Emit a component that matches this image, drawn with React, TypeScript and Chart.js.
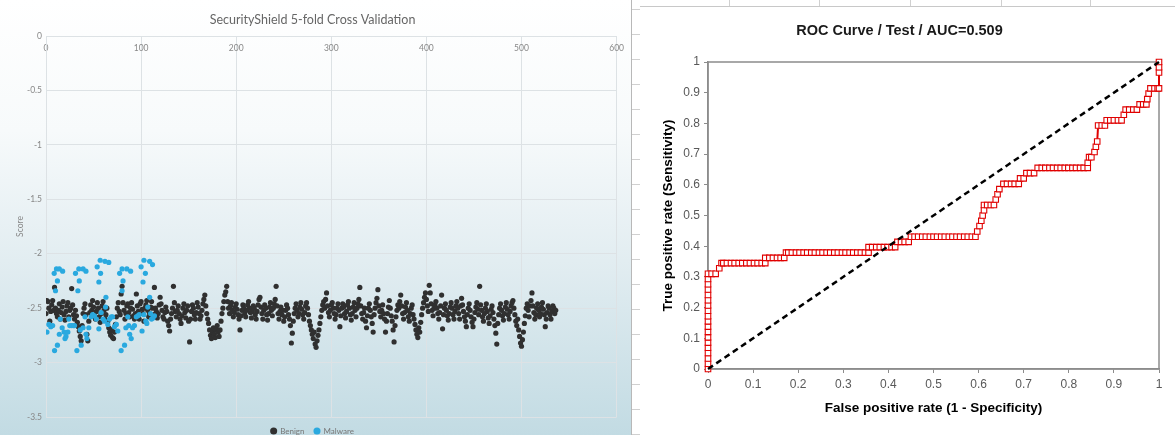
import React, { useEffect, useRef } from 'react';
import Chart from 'chart.js/auto';

// ---------- Left chart: SecurityShield 5-fold Cross Validation ----------
const leftTitle = 'SecurityShield 5-fold Cross Validation';
const seriesNames = ['Benign', 'Malware'];
const xTickStep = 100;
const xRange = [0, 600];
const yRange = [-3.5, 0];
const yTickStep = 0.5;

// Benign scores, one per sample index (x = sample number)
const benignScores = [
  -2.55, -2.43, -2.44, -2.5, -2.62, -2.53, -2.47, -2.43, -2.52, -2.31,
  -2.5, -2.55, -2.58, -2.52, -2.46, -2.6, -2.54, -2.49, -2.44, -2.56,
  -2.61, -2.53, -2.48, -2.45, -2.58, -2.52, -2.5, -2.32, -2.47, -2.56,
  -2.6, -2.52, -2.57, -2.63, -2.67, -2.71, -2.76, -2.8, -2.66, -2.55,
  -2.5, -2.46, -2.56, -2.74, -2.8, -2.62, -2.54, -2.47, -2.52, -2.43,
  -2.49, -2.57, -2.6, -2.53, -2.45, -2.5, -2.58, -2.63, -2.55, -2.48,
  -2.44, -2.52, -2.6, -2.56, -2.5, -2.62, -2.68, -2.72, -2.75, -2.7,
  -2.77, -2.78, -2.72, -2.65, -2.58, -2.5, -2.45, -2.53, -2.56, -2.37,
  -2.3, -2.45, -2.52, -2.6, -2.55, -2.48, -2.46, -2.54, -2.58, -2.5,
  -2.45, -2.51, -2.57, -2.6, -2.55, -2.37, -2.48, -2.53, -2.6, -2.46,
  -2.44, -2.51, -2.55, -2.62, -2.5, -2.47, -2.43, -2.52, -2.58, -2.55,
  -2.49, -2.44, -2.5, -2.56, -2.31, -2.5, -2.53, -2.59, -2.55, -2.47,
  -2.4, -2.46, -2.52, -2.58, -2.6, -2.54, -2.49, -2.53, -2.62, -2.66,
  -2.71, -2.6, -2.55, -2.5, -2.3, -2.45, -2.53, -2.58, -2.52, -2.48,
  -2.55, -2.6, -2.64, -2.57, -2.5, -2.46, -2.54, -2.59, -2.52, -2.48,
  -2.62, -2.81, -2.6, -2.53, -2.47, -2.5, -2.56, -2.6, -2.54, -2.45,
  -2.49, -2.55, -2.6, -2.57, -2.52, -2.46, -2.42, -2.38, -2.48, -2.55,
  -2.6, -2.64, -2.7, -2.75, -2.78, -2.72, -2.68, -2.74, -2.77, -2.7,
  -2.66, -2.72, -2.76, -2.7, -2.62, -2.55, -2.5, -2.44, -2.38, -2.35,
  -2.3, -2.44, -2.5, -2.55, -2.48, -2.45, -2.52, -2.58, -2.54, -2.49,
  -2.46, -2.51, -2.56, -2.6, -2.7, -2.57, -2.52, -2.47, -2.5, -2.55,
  -2.58, -2.52, -2.47, -2.44, -2.5, -2.54, -2.59, -2.53, -2.48, -2.5,
  -2.56, -2.6, -2.53, -2.47, -2.42, -2.4, -2.49, -2.55, -2.6, -2.52,
  -2.47, -2.5, -2.56, -2.61, -2.55, -2.49, -2.45, -2.52, -2.57, -2.5,
  -2.46, -2.42, -2.3, -2.48, -2.55, -2.6, -2.53, -2.49, -2.56, -2.52,
  -2.62, -2.58, -2.52, -2.47, -2.5, -2.56, -2.6, -2.66, -2.82, -2.73,
  -2.62, -2.55, -2.5, -2.46, -2.52, -2.58, -2.55, -2.49, -2.45, -2.51,
  -2.56, -2.6, -2.54, -2.48, -2.45, -2.5, -2.56, -2.62, -2.66, -2.7,
  -2.74, -2.78, -2.72, -2.83, -2.86, -2.8, -2.75, -2.7, -2.64, -2.58,
  -2.52, -2.47, -2.44, -2.5, -2.42, -2.36, -2.48, -2.54, -2.58, -2.52,
  -2.47, -2.45, -2.5, -2.55, -2.6, -2.56, -2.5, -2.46, -2.52, -2.67,
  -2.57, -2.5, -2.46, -2.49, -2.55, -2.59, -2.53, -2.47, -2.44, -2.5,
  -2.56, -2.61, -2.55, -2.49, -2.45, -2.52, -2.58, -2.5, -2.46, -2.42,
  -2.31, -2.48, -2.55, -2.6, -2.54, -2.5, -2.62, -2.68, -2.57, -2.5,
  -2.46, -2.52, -2.58, -2.64, -2.72, -2.56, -2.5, -2.45, -2.41, -2.33,
  -2.48, -2.53, -2.58, -2.52, -2.47, -2.55, -2.6, -2.72, -2.62, -2.55,
  -2.49, -2.43, -2.5, -2.57, -2.62, -2.7, -2.81, -2.66, -2.58, -2.52,
  -2.47, -2.5, -2.44, -2.38, -2.48, -2.55, -2.6, -2.54, -2.49, -2.45,
  -2.52, -2.58, -2.62, -2.55, -2.5, -2.47, -2.56, -2.6, -2.65, -2.7,
  -2.74, -2.77, -2.68, -2.72, -2.63, -2.56, -2.5, -2.45, -2.4, -2.36,
  -2.42, -2.48, -2.53, -2.29, -2.36, -2.46, -2.52, -2.57, -2.5, -2.47,
  -2.44, -2.5, -2.55, -2.6, -2.54, -2.48, -2.38, -2.69, -2.56, -2.5,
  -2.46, -2.52, -2.57, -2.61, -2.55, -2.49, -2.45, -2.5, -2.56, -2.6,
  -2.53, -2.48, -2.44, -2.5, -2.55, -2.6, -2.48, -2.41, -2.47, -2.53,
  -2.58, -2.62, -2.67, -2.56, -2.5, -2.46, -2.52, -2.58, -2.63, -2.67,
  -2.6, -2.54, -2.49, -2.45, -2.51, -2.56, -2.3, -2.47, -2.52, -2.58,
  -2.62, -2.55, -2.5, -2.46, -2.53, -2.59, -2.64, -2.57, -2.51, -2.48,
  -2.54, -2.6, -2.66, -2.73, -2.83, -2.64, -2.56, -2.5, -2.46, -2.52,
  -2.57, -2.61, -2.55, -2.49, -2.45, -2.51, -2.56, -2.6, -2.53, -2.48,
  -2.45, -2.43, -2.5, -2.56, -2.62, -2.66, -2.6, -2.7, -2.76, -2.82,
  -2.85, -2.79, -2.72, -2.64, -2.57, -2.5, -2.46, -2.52, -2.58, -2.48,
  -2.43, -2.36, -2.48, -2.54, -2.6, -2.56, -2.5, -2.46, -2.52, -2.58,
  -2.55, -2.49, -2.45, -2.51, -2.56, -2.67, -2.6, -2.54, -2.48, -2.5,
  -2.56, -2.6, -2.53, -2.48, -2.5, -2.55, -2.52,
];

// Malware samples: [sample index, score]
const malwarePoints: [number, number][] = [
  [1, -2.72], [3, -2.65], [5, -2.67], [7, -2.66], [9, -2.89], [12, -2.84],
  [8.6, -2.18], [11, -2.14], [14, -2.14], [17.5, -2.16], [12, -2.25], [10, -2.34],
  [15, -2.6], [17, -2.68], [19, -2.72], [21, -2.76], [23, -2.72], [25, -2.66],
  [27, -2.66], [29, -2.66], [20, -2.78], [14, -2.74], [24, -2.6],
  [31, -2.18], [34.5, -2.14], [39, -2.14], [42, -2.16], [33.5, -2.34], [35, -2.25],
  [32.5, -2.89], [37, -2.84], [39, -2.68], [41, -2.58], [42, -2.74], [43, -2.78],
  [45, -2.68], [47.5, -2.58], [49, -2.56], [51, -2.57], [53, -2.6], [36, -2.7], [30, -2.66],
  [53.8, -2.12], [57, -2.06], [62, -2.07], [66, -2.08], [55.6, -2.26], [57.4, -2.18],
  [55.6, -2.69], [58, -2.54], [61.6, -2.62], [62.6, -2.49], [63, -2.4], [66.8, -2.6],
  [68.6, -2.58], [70, -2.58], [72, -2.67], [74, -2.65], [75.5, -2.71], [60, -2.6], [65, -2.65],
  [77.4, -2.18], [80, -2.14], [85, -2.14], [89, -2.16], [81, -2.25], [80, -2.34],
  [79, -2.89], [82.6, -2.84], [84, -2.68], [86, -2.58], [88, -2.74], [89.6, -2.78],
  [91, -2.68], [93, -2.66], [95, -2.58], [96.6, -2.57], [98, -2.56], [87, -2.66],
  [100, -2.12], [103, -2.06], [109, -2.07], [112, -2.1], [102, -2.26], [104.5, -2.18],
  [101, -2.71], [105, -2.62], [107, -2.49], [109, -2.4], [111, -2.6], [112.5, -2.59],
  [114, -2.57], [103, -2.56], [106, -2.64], [110, -2.55],
];

// ---------- Right chart: ROC curve ----------
const rocTitle = 'ROC Curve / Test / AUC=0.509';
const rocXTitle = 'False positive rate (1 - Specificity)';
const rocYTitle = 'True positive rate (Sensitivity)';
const rocTickStep = 0.1;

// [false positive rate, true positive rate]
const rocCurve: [number, number][] = [
  [0, 0], [0, 0.017], [0, 0.034], [0, 0.052], [0, 0.069], [0, 0.086], [0, 0.103],
  [0, 0.121], [0, 0.138], [0, 0.155], [0, 0.172], [0, 0.19], [0, 0.207], [0, 0.224],
  [0, 0.241], [0, 0.259], [0, 0.276], [0, 0.293], [0, 0.31],
  [0.008, 0.31], [0.017, 0.31], [0.025, 0.328], [0.03, 0.345],
  [0.034, 0.345], [0.042, 0.345], [0.051, 0.345], [0.059, 0.345], [0.068, 0.345], [0.076, 0.345],
  [0.085, 0.345], [0.093, 0.345], [0.102, 0.345], [0.11, 0.345], [0.119, 0.345], [0.127, 0.345],
  [0.127, 0.362], [0.136, 0.362], [0.144, 0.362], [0.153, 0.362], [0.161, 0.362], [0.169, 0.362],
  [0.173, 0.379], [0.178, 0.379], [0.186, 0.379], [0.195, 0.379], [0.203, 0.379], [0.212, 0.379],
  [0.22, 0.379], [0.229, 0.379], [0.237, 0.379], [0.246, 0.379], [0.254, 0.379], [0.263, 0.379],
  [0.271, 0.379], [0.28, 0.379], [0.288, 0.379], [0.297, 0.379], [0.305, 0.379], [0.314, 0.379],
  [0.322, 0.379], [0.331, 0.379], [0.339, 0.379], [0.348, 0.379], [0.356, 0.379],
  [0.356, 0.397], [0.364, 0.397], [0.373, 0.397], [0.381, 0.397], [0.39, 0.397], [0.398, 0.397],
  [0.407, 0.397], [0.415, 0.397],
  [0.42, 0.414], [0.428, 0.414], [0.436, 0.414], [0.445, 0.414],
  [0.45, 0.431], [0.458, 0.431], [0.466, 0.431], [0.475, 0.431], [0.483, 0.431], [0.492, 0.431],
  [0.5, 0.431], [0.508, 0.431], [0.517, 0.431], [0.525, 0.431], [0.534, 0.431], [0.542, 0.431],
  [0.551, 0.431], [0.559, 0.431], [0.568, 0.431], [0.576, 0.431], [0.585, 0.431], [0.593, 0.431],
  [0.597, 0.448], [0.602, 0.466], [0.606, 0.483], [0.609, 0.5], [0.612, 0.517], [0.612, 0.534],
  [0.619, 0.534], [0.627, 0.534], [0.634, 0.534], [0.638, 0.552], [0.642, 0.569], [0.646, 0.586],
  [0.655, 0.603], [0.663, 0.603], [0.672, 0.603], [0.68, 0.603], [0.689, 0.603],
  [0.692, 0.621], [0.7, 0.621], [0.706, 0.638], [0.714, 0.638], [0.723, 0.638],
  [0.731, 0.655], [0.74, 0.655], [0.748, 0.655], [0.757, 0.655], [0.765, 0.655], [0.774, 0.655],
  [0.782, 0.655], [0.791, 0.655], [0.799, 0.655], [0.808, 0.655], [0.816, 0.655], [0.825, 0.655],
  [0.833, 0.655], [0.842, 0.655],
  [0.842, 0.672], [0.845, 0.69], [0.85, 0.69], [0.857, 0.707], [0.86, 0.724], [0.863, 0.741],
  [0.865, 0.793], [0.873, 0.793], [0.88, 0.793], [0.884, 0.81], [0.892, 0.81], [0.9, 0.81],
  [0.909, 0.81], [0.917, 0.81], [0.922, 0.828], [0.926, 0.845], [0.934, 0.845], [0.943, 0.845],
  [0.951, 0.845], [0.957, 0.862], [0.965, 0.862], [0.972, 0.862], [0.974, 0.879], [0.977, 0.897],
  [0.981, 0.914], [0.99, 0.914], [0.997, 0.914], [1, 0.914], [1, 0.966], [1, 0.983], [1, 1],
];
const chanceLine: [number, number][] = [[0, 0], [1, 1]];

const plainNumber = (v: any) => `${Number(Number(v).toFixed(2))}`;

const rocBox = {
  id: 'rocBox',
  beforeDatasetsDraw(chart: any) {
    const { ctx, chartArea } = chart;
    ctx.save();
    ctx.strokeStyle = '#8c8c8c';
    ctx.lineWidth = 1.5;
    ctx.strokeRect(chartArea.left, chartArea.top, chartArea.right - chartArea.left, chartArea.bottom - chartArea.top);
    ctx.restore();
  },
};

export default function App() {
  const leftRef = useRef<HTMLCanvasElement>(null);
  const rightRef = useRef<HTMLCanvasElement>(null);

  useEffect(() => {
    const leftFont = "Lato, 'Open Sans', sans-serif";
    const left = new Chart(leftRef.current!, {
      type: 'scatter',
      data: {
        datasets: [
          {
            label: seriesNames[1],
            data: malwarePoints.map(([x, y]) => ({ x, y })),
            backgroundColor: '#2aa9df',
            borderColor: '#2aa9df',
            borderWidth: 0,
            pointRadius: 2.6,
            pointHoverRadius: 2.6,
          },
          {
            label: seriesNames[0],
            data: benignScores.map((y, i) => ({ x: i, y })),
            backgroundColor: '#303030',
            borderColor: '#303030',
            borderWidth: 0,
            pointRadius: 2.6,
            pointHoverRadius: 2.6,
          },
        ],
      },
      options: {
        animation: false,
        responsive: false,
        devicePixelRatio: 1,
        layout: { padding: { left: 0, right: 6, top: 0, bottom: 0 } },
        plugins: {
          tooltip: { enabled: false },
          title: {
            display: true,
            text: leftTitle,
            color: '#666',
            font: { family: leftFont, size: 12.5, weight: 'normal' },
            padding: { top: 12, bottom: 9 },
          },
          legend: {
            position: 'bottom',
            labels: {
              usePointStyle: true,
              pointStyle: 'circle',
              boxWidth: 5,
              boxHeight: 5,
              padding: 10,
              color: '#777',
              font: { family: leftFont, size: 8 },
              sort: (a: any, b: any) => b.datasetIndex - a.datasetIndex,
            },
          },
        },
        scales: {
          x: {
            type: 'linear',
            position: 'top',
            min: xRange[0],
            max: xRange[1],
            afterFit: (s: any) => { s.height = 0; },
            ticks: { stepSize: xTickStep, mirror: true, padding: 7, color: '#888', font: { family: leftFont, size: 8.5 } },
            grid: { color: '#dde2e5', drawTicks: false },
            border: { display: false },
          },
          y: {
            type: 'linear',
            min: yRange[0],
            max: yRange[1],
            afterFit: (s: any) => { s.width = 46; },
            ticks: { stepSize: yTickStep, padding: 4, color: '#888', font: { family: leftFont, size: 8.5 }, callback: plainNumber },
            grid: { color: '#dde2e5', drawTicks: false },
            border: { display: true, color: '#dde2e5' },
            title: {
              display: true,
              text: 'Score',
              color: '#888',
              font: { family: leftFont, size: 8.5 },
              padding: { top: 15, bottom: 0 },
            },
          },
        },
      },
    });

    const rocFont = "'Liberation Sans', Arial, sans-serif";
    const right = new Chart(rightRef.current!, {
      type: 'scatter',
      data: {
        datasets: [
          {
            label: 'chance',
            data: chanceLine.map(([x, y]) => ({ x, y })),
            showLine: true,
            borderColor: '#000',
            borderWidth: 2.5,
            borderDash: [6, 4],
            pointRadius: 0,
            clip: false,
          },
          {
            label: 'ROC',
            data: rocCurve.map(([x, y]) => ({ x, y })),
            showLine: true,
            borderColor: '#e00000',
            borderWidth: 2,
            pointStyle: 'rect',
            pointRadius: 3.9,
            pointHoverRadius: 3.9,
            pointBackgroundColor: '#ffffff',
            pointBorderColor: '#e00000',
            pointBorderWidth: 1.1,
            clip: false,
          },
        ],
      },
      options: {
        animation: false,
        responsive: false,
        devicePixelRatio: 1,
        layout: { padding: { left: 0, right: 16, top: 0, bottom: 0 } },
        plugins: {
          tooltip: { enabled: false },
          legend: { display: false },
          title: {
            display: true,
            text: rocTitle,
            color: '#1a1a1a',
            font: { family: rocFont, size: 14.5, weight: 'bold' },
            padding: { top: 15, bottom: 22.6 },
          },
        },
        scales: {
          x: {
            type: 'linear',
            min: 0,
            max: 1,
            afterFit: (s: any) => { s.height = 66; },
            ticks: { stepSize: rocTickStep, padding: 4, color: '#595959', font: { family: rocFont, size: 12 }, callback: plainNumber },
            grid: { drawOnChartArea: false, drawTicks: true, tickLength: 4, color: '#8c8c8c' },
            border: { display: true, color: '#8c8c8c', width: 1.5 },
            title: {
              display: true,
              text: rocXTitle,
              color: '#000',
              font: { family: rocFont, size: 13.5, weight: 'bold' },
              padding: { top: 0, bottom: 19 },
            },
          },
          y: {
            type: 'linear',
            min: 0,
            max: 1,
            afterFit: (s: any) => { s.width = 68; },
            ticks: { stepSize: rocTickStep, padding: 4, color: '#595959', font: { family: rocFont, size: 12 }, callback: plainNumber },
            grid: { drawOnChartArea: false, drawTicks: true, tickLength: 4, color: '#8c8c8c' },
            border: { display: true, color: '#8c8c8c', width: 1.5 },
            title: {
              display: true,
              text: rocYTitle,
              color: '#000',
              font: { family: rocFont, size: 13.5, weight: 'bold' },
              padding: { top: 20, bottom: 0 },
            },
          },
        },
      },
      plugins: [rocBox],
    });

    return () => {
      left.destroy();
      right.destroy();
    };
  }, []);

  const cellLines = [89, 179, 270, 361, 450];

  return (
    <div style={{ position: 'absolute', left: 0, top: 0, width: 1175, height: 435, background: '#fff', overflow: 'hidden' }}>
      <div
        style={{
          position: 'absolute', left: 0, top: 0, width: 631, height: 435,
          background: 'linear-gradient(to bottom, #ffffff 0%, #f7fafb 30%, #e2edf1 60%, #c2dbe3 100%)',
        }}
      />
      <div style={{ position: 'absolute', left: 631, top: 0, width: 1, height: 435, background: '#b8b8b8' }} />
      <div
        style={{
          position: 'absolute', left: 632, top: 0, width: 8, height: 435,
          background: 'repeating-linear-gradient(to bottom, transparent 0px, transparent 9px, #d0d0d0 9px, #d0d0d0 10px, transparent 10px, transparent 25px)',
        }}
      />
      <div style={{ position: 'absolute', left: 640, top: 0, width: 535, height: 6, borderBottom: '1px solid #c8c8c8' }}>
        {cellLines.map((x) => (
          <div key={x} style={{ position: 'absolute', left: x, top: 0, width: 1, height: 6, background: '#d0d0d0' }} />
        ))}
      </div>
      <canvas ref={leftRef} width={631} height={445} style={{ position: 'absolute', left: 0, top: 0 }} />
      <canvas ref={rightRef} width={535} height={428} style={{ position: 'absolute', left: 640, top: 7 }} />
    </div>
  );
}
